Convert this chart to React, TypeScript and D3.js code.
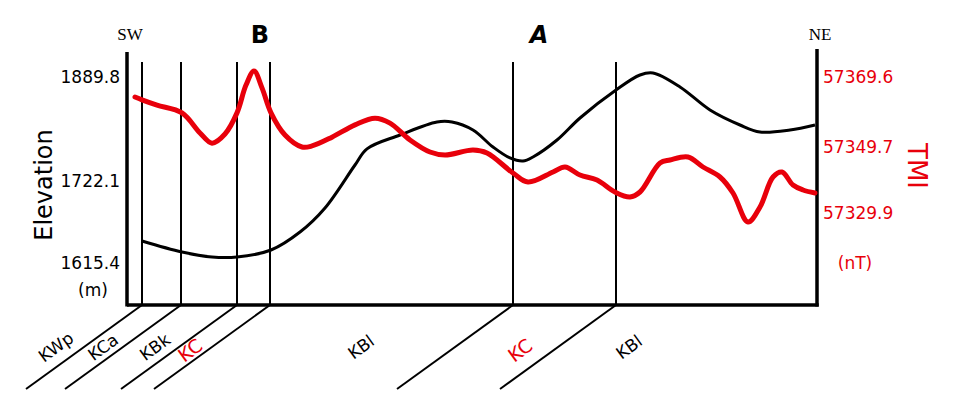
import React from "react";
import * as d3 from "d3";

// Distance along profile (arbitrary units, 0 = SW end, 690 = NE end)
const elevDist = [15, 55, 85, 110, 144, 173, 198, 228, 240, 273, 310, 325, 346, 366, 383, 396, 406, 430, 453, 489, 513, 526, 553, 583, 613, 633, 663, 688];
const elevValues = [1644.0, 1629.7, 1623.2, 1623.2, 1632.3, 1655.7, 1687.0, 1747.9, 1774.0, 1796.3, 1817.2, 1817.2, 1804.3, 1776.9, 1759.2, 1754.3, 1760.8, 1788.2, 1823.7, 1868.8, 1893.0, 1896.2, 1873.7, 1836.6, 1812.4, 1801.1, 1804.3, 1812.4];

const tmiDist = [8, 15, 30, 55, 73, 85, 98, 110, 119, 127, 135, 144, 158, 175, 185, 205, 228, 248, 263, 283, 303, 318, 346, 360, 386, 401, 426, 438, 453, 470, 488, 503, 513, 533, 543, 561, 576, 593, 606, 621, 633, 646, 655, 666, 676, 688];
const tmiValues = [57363.9, 57363.1, 57361.6, 57359.4, 57353.7, 57350.8, 57353.4, 57359.4, 57367.3, 57371.3, 57366.5, 57359.4, 57353.1, 57349.7, 57350.0, 57352.5, 57356.0, 57357.9, 57356.5, 57351.7, 57348.2, 57347.3, 57348.8, 57347.9, 57341.9, 57339.2, 57342.2, 57343.7, 57341.3, 57339.8, 57336.2, 57334.7, 57336.2, 57344.9, 57345.8, 57346.7, 57343.7, 57340.7, 57335.9, 57327.2, 57331.7, 57340.7, 57342.2, 57338.3, 57336.8, 57335.9];

const elevTicks = [1615.4, 1722.1, 1889.8];
const tmiTicks = [57329.9, 57349.7, 57369.6];

const contactDist = [15, 54, 110, 143, 386, 489];
const unitLabels = ["KWp", "KCa", "KBk", "KC", "KBl", "KC", "KBl"];
const unitLabelRed = [false, false, false, true, false, true, false];
const unitLabelDist = [-71, -24, 28, 63, 234, 393, 502];

const W = 955;
const H = 400;
const left = 127;
const right = 817;
const bottom = 305;

export default function App() {
  const x = d3.scaleLinear().domain([0, 690]).range([left, right]);
  const yElev = d3.scaleLinear().domain(elevTicks).range([263, 181, 77]);
  const yTmi = d3.scaleLinear().domain(tmiTicks).range([213, 147, 77]);

  const elevLine = d3
    .line<number>()
    .x((_, i) => x(elevDist[i]))
    .y((d) => yElev(d))
    .curve(d3.curveCatmullRom.alpha(0.5));
  const tmiLine = d3
    .line<number>()
    .x((_, i) => x(tmiDist[i]))
    .y((d) => yTmi(d))
    .curve(d3.curveCatmullRom.alpha(0.5));

  const red = "#e8000b";
  const sans = "'DejaVu Sans', sans-serif";
  const serif = "'Liberation Serif', serif";

  return (
    <svg
      width={W}
      height={H}
      style={{ position: "absolute", left: 0, top: 0, background: "#fff" }}
    >
      {/* frame */}
      <line x1={left} x2={left} y1={52} y2={bottom + 1.5} stroke="#000" strokeWidth={3.5} />
      <line x1={right} x2={right} y1={49} y2={bottom + 1.5} stroke="#000" strokeWidth={3.5} />
      <line x1={left} x2={right + 1.7} y1={bottom} y2={bottom} stroke="#000" strokeWidth={3.5} />

      {/* contacts */}
      {contactDist.map((d, i) => (
        <g key={i}>
          <line x1={x(d)} x2={x(d)} y1={62} y2={bottom} stroke="#000" strokeWidth={2} />
          <line x1={x(d)} x2={x(d) - 116} y1={bottom} y2={bottom + 84} stroke="#000" strokeWidth={2} />
        </g>
      ))}

      {/* curves */}
      <path d={elevLine(elevValues) || ""} fill="none" stroke="#000" strokeWidth={3} strokeLinejoin="round" />
      <path d={tmiLine(tmiValues) || ""} fill="none" stroke={red} strokeWidth={5} strokeLinejoin="round" strokeLinecap="round" />

      {/* left ticks */}
      {elevTicks.map((t) => (
        <text key={t} x={120} y={yElev(t)} textAnchor="end" dominantBaseline="central" fontFamily={sans} fontSize={17} fill="#000">
          {t.toFixed(1)}
        </text>
      ))}
      <text x={93} y={290} textAnchor="middle" dominantBaseline="central" fontFamily={sans} fontSize={17} fill="#000">(m)</text>
      <text transform="translate(44,185) rotate(-90)" textAnchor="middle" dominantBaseline="central" fontFamily={sans} fontSize={24} fill="#000">Elevation</text>

      {/* right ticks */}
      {tmiTicks.map((t) => (
        <text key={t} x={823} y={yTmi(t)} textAnchor="start" dominantBaseline="central" fontFamily={sans} fontSize={17} fill={red}>
          {t.toFixed(1)}
        </text>
      ))}
      <text x={855} y={263} textAnchor="middle" dominantBaseline="central" fontFamily={sans} fontSize={17} fill={red}>(nT)</text>
      <text transform="translate(917,166) rotate(90)" textAnchor="middle" dominantBaseline="central" fontFamily={sans} fontSize={26} fill={red}>TMI</text>

      {/* direction and point labels */}
      <text x={130} y={40} textAnchor="middle" fontFamily={serif} fontSize={17} fill="#000">SW</text>
      <text x={820} y={40} textAnchor="middle" fontFamily={serif} fontSize={17} fill="#000">NE</text>
      <text x={260} y={43} textAnchor="middle" fontFamily={sans} fontWeight="bold" fontSize={24} fill="#000">B</text>
      <text x={539} y={43} textAnchor="middle" fontFamily={sans} fontWeight="bold" fontStyle="italic" fontSize={24} fill="#000">A</text>

      {/* unit labels */}
      {unitLabels.map((l, i) => (
        <text
          key={i}
          transform={`translate(${x(unitLabelDist[i])},${unitLabelRed[i] ? 350 : 347}) rotate(-36)`}
          textAnchor="middle"
          dominantBaseline="central"
          fontFamily={sans}
          fontSize={unitLabelRed[i] ? 19 : 17}
          fill={unitLabelRed[i] ? red : "#000"}
        >
          {l}
        </text>
      ))}
    </svg>
  );
}
